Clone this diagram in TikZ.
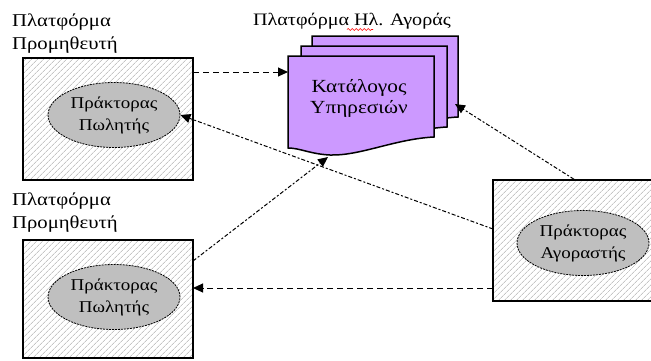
\documentclass[tikz,border=0pt]{standalone}
\usepackage{fontspec}
\setmainfont{Liberation Serif}[FakeStretch=1.15]
\usetikzlibrary{arrows.meta,shapes.geometric,patterns.meta,decorations.pathmorphing}
\definecolor{docpurple}{HTML}{CC99FF}
\begin{document}
\begin{tikzpicture}[x=1pt,y=-1pt,
  lbl/.style={font=\fontsize{18}{23}\selectfont, align=left, inner sep=0, anchor=north west},
  platbox/.style={draw=black, line width=1.5pt, preaction={fill=white}, pattern={Lines[angle=45,distance=4pt,line width=0.6pt]}, pattern color=black!35, inner sep=0},
  agent/.style={ellipse, draw=black, dash pattern=on 2pt off 1pt, line width=0.8pt, fill=black!25, minimum width=132pt, minimum height=65pt, inner sep=0, font=\fontsize{16.5}{22}\selectfont, align=center},
  doc/.style={draw=black, line width=1.5pt, fill=docpurple},
  dashA/.style={draw, line width=1pt, dash pattern=on 6pt off 4pt, -{Triangle[length=10pt,width=9pt]}},
  dashB/.style={draw, line width=1pt, dash pattern=on 4pt off 2pt on 2pt off 2pt, -{Triangle[length=10pt,width=9pt]}},
]
\useasboundingbox (0,0) rectangle (651,360);
% platform boxes
\node[platbox, minimum width=170pt, minimum height=122pt] (sbox1) at (108,119) {};
\node[platbox, minimum width=170pt, minimum height=118pt] (sbox2) at (108,299) {};
\node[platbox, minimum width=162pt, minimum height=121pt] (bbox) at (574,240.5) {};
% labels
\node[lbl] (lbl1) at (12,14) {Πλατφόρμα\\Προμηθευτή};
\node[lbl] (lbl2) at (12,193) {Πλατφόρμα\\Προμηθευτή};
% agents
\node[agent] (seller1) at (114,115) {Πράκτορας\\Πωλητής};
\node[agent] (seller2) at (114,297) {Πράκτορας\\Πωλητής};
\node[agent] (buyer) at (583,243) {Πράκτορας\\Αγοραστής};
% catalog documents
\foreach \dx/\dy in {24/-20, 13/-10, 0/0}{
  \begin{scope}[shift={(\dx,\dy)}]
    \path[doc] (288,56) -- (434,56) -- (434,137)
      .. controls (395,139) and (360,156) .. (330,155)
      .. controls (310,154) and (300,148) .. (288,148) -- cycle;
  \end{scope}
}
\node[font=\fontsize{18.5}{21}\selectfont, align=center] (cat) at (359,98.5) {Κατάλογος\\Υπηρεσιών};
\node[font=\fontsize{17.5}{21}\selectfont, inner sep=0] (mkt) at (352,21) {Πλατφόρμα Ηλ. Αγοράς};
\draw[red, line width=0.6pt, decorate, decoration={snake, amplitude=1pt, segment length=4pt}] (347,29.5) -- (373,29.5);
% connector ends
\coordinate (catL) at (288,72);
\coordinate (catB) at (328,157);
\coordinate (backR) at (455,104);
\coordinate (bw1) at (493,229);
\coordinate (bw2) at (493,288);
\coordinate (s2e) at (193,261);
\coordinate (s2a) at (193,288);
% connectors
\draw[dashA] (sbox1.east |- catL) -- (catL);
\draw[dashB] (bw1) -- (seller1.east);
\draw[dashB] (s2e) -- (catB);
\draw[dashB] (bbox.north) -- (backR);
\draw[dashA] (bw2) -- (s2a);
\end{tikzpicture}
\end{document}
